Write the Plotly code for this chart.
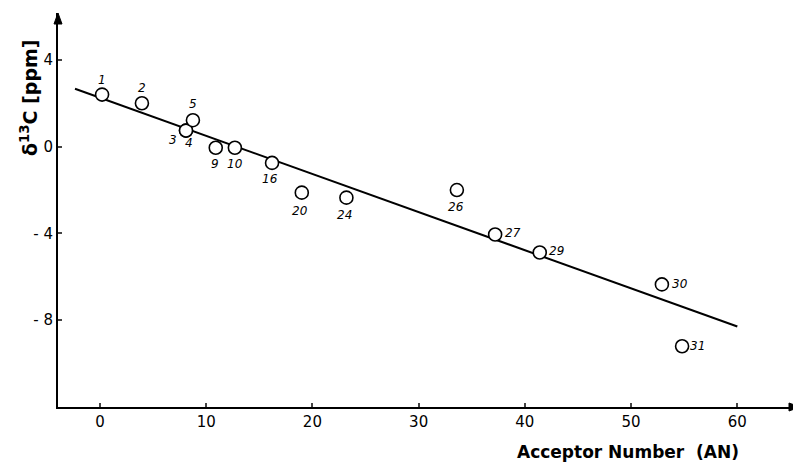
import plotly.graph_objects as go

# Data
labels = ["1", "2", "3", "4", "5", "9", "10", "16", "20", "24", "26", "27", "29", "30", "31"]
an = [0.2, 3.95, 8.1, 8.1, 8.75, 10.9, 12.7, 16.2, 19.0, 23.2, 33.6, 37.2, 41.4, 52.9, 54.8]
shift = [2.4, 2.0, 0.74, 0.74, 1.22, -0.05, -0.05, -0.75, -2.12, -2.35, -2.0, -4.05, -4.88, -6.35, -9.2]

fit_x = [-2.35, 60.0]
fit_y = [2.67, -8.29]

x_ticks = [0, 10, 20, 30, 40, 50, 60]
y_ticks = [4, 0, -4, -8]
y_ticktext = ["4", "0", "- 4", "- 8"]

# label offsets (pixels) — styling only
label_off = {
    "1": (0, -15), "2": (0, -15), "3": (-13, 9), "4": (3, 12), "5": (0, -16),
    "9": (-1, 16), "10": (0, 16), "16": (-2, 16), "20": (-2, 18), "24": (-2, 17),
    "26": (-1, 17), "27": (18, -2), "29": (17, -2), "30": (18, 0), "31": (15, 0),
}

fig = go.Figure()
fig.add_trace(go.Scatter(x=fit_x, y=fit_y, mode="lines",
                         line=dict(color="black", width=2), hoverinfo="skip"))
fig.add_trace(go.Scatter(x=an, y=shift, mode="markers",
                         marker=dict(size=13, color="white",
                                     line=dict(color="black", width=1.6))))

for lab, xv, yv in zip(labels, an, shift):
    dx, dy = label_off[lab]
    fig.add_annotation(x=xv, y=yv, text="<i>" + lab + "</i>", showarrow=False,
                       xshift=dx, yshift=-dy,
                       font=dict(family="DejaVu Sans", size=12, color="black"))

# axis titles
fig.add_annotation(xref="paper", yref="paper", x=0.768, y=-0.114, xanchor="center", yanchor="middle",
                   text="Acceptor Number  (AN)", showarrow=False,
                   font=dict(family="DejaVu Sans", size=17, color="black", weight="bold"))
fig.add_annotation(xref="paper", yref="paper", x=-0.040, y=0.785, xanchor="center", yanchor="middle",
                   text="δ<sup>13</sup>C [ppm]", showarrow=False, textangle=-90,
                   font=dict(family="DejaVu Sans", size=19, color="black", weight="bold"))

# axis arrowheads (paper coordinates; plot area is 742 x 394 px)
pw, ph = 742.0, 394.0
hx, hy = 4.0 / pw, 11.0 / ph
fig.add_shape(type="path", xref="paper", yref="paper",
              path=f"M 0,1 L {-hx},{1 - hy} L {hx},{1 - hy} Z",
              fillcolor="black", line=dict(color="black", width=1))
ax_, ay_ = 11.0 / pw, 4.0 / ph
fig.add_shape(type="path", xref="paper", yref="paper",
              path=f"M 1,0 L {1 - ax_},{ay_} L {1 - ax_},{-ay_} Z",
              fillcolor="black", line=dict(color="black", width=1))

# The page body has an 8px default margin, so the figure is sized to fit the window.
fig.update_layout(
    width=793, height=456,
    margin=dict(l=50, r=1, t=5, b=57),
    paper_bgcolor="white", plot_bgcolor="white",
    showlegend=False,
    font=dict(family="DejaVu Sans", color="black"),
)
fig.update_xaxes(range=[-3.95, 65.9], tickvals=x_ticks, ticks="inside", ticklen=4, tickwidth=2,
                 showline=True, linecolor="black", linewidth=2, showgrid=False, zeroline=False,
                 tickfont=dict(size=15, color="black"))
fig.update_yaxes(range=[-12.0, 6.16], tickvals=y_ticks, ticktext=y_ticktext, ticks="inside",
                 ticklen=4, tickwidth=2, showline=True, linecolor="black", linewidth=2,
                 showgrid=False, zeroline=False, tickfont=dict(size=15, color="black"))

fig.write_html("out.html")
